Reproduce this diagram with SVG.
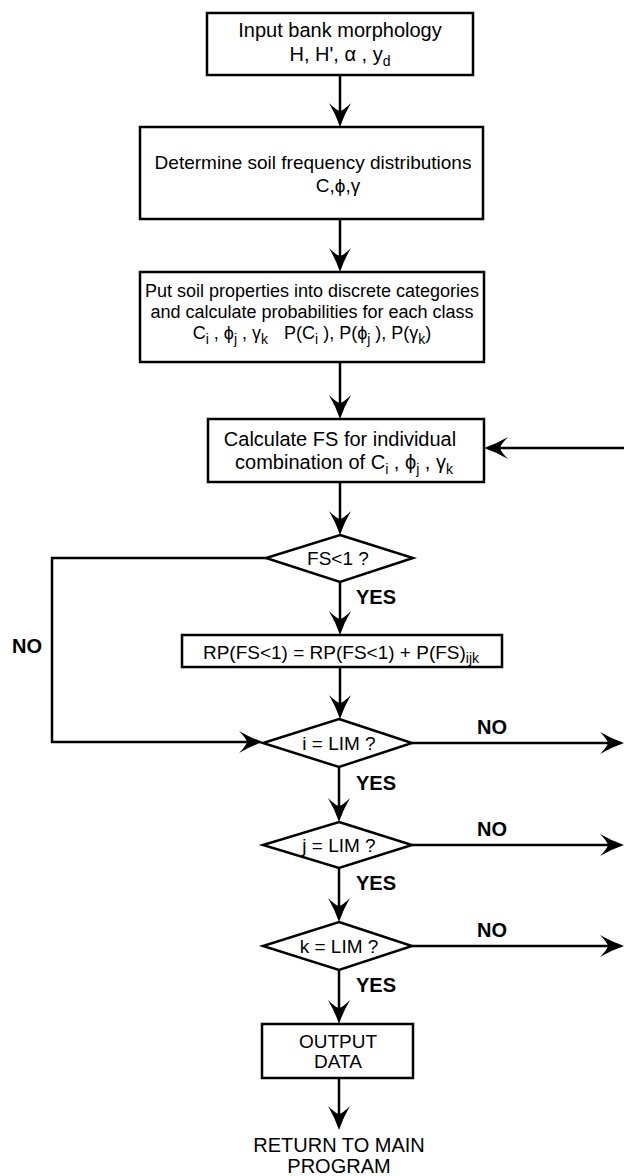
<svg xmlns="http://www.w3.org/2000/svg" width="624" height="1176" viewBox="0 0 624 1176">
<style>
  .bg { fill: #ffffff; }
  .box { fill: #ffffff; stroke: #000000; stroke-width: 2.5; }
  .t { font-family: "Liberation Sans", Arial, sans-serif; font-size: 19px; fill: #000000; text-anchor: middle; }
  .t20 { font-size: 20px; }
  .t18 { font-size: 18px; }
  .lbl { font-family: "Liberation Sans", Arial, sans-serif; font-size: 20px; font-weight: bold; fill: #000000; text-anchor: middle; }
  .sub { font-size: 14px; }
  .arr { fill: none; stroke: #000000; stroke-width: 2.5; marker-end: url(#ah); }
</style>
<defs>
  <marker id="ah" markerUnits="userSpaceOnUse" viewBox="-26 -12 28 24" refX="-6" refY="0" markerWidth="28" markerHeight="24" orient="auto">
    <path d="M0,0 Q-12,-4 -24,-11 Q-17,-4 -16,0 Q-17,4 -24,11 Q-12,4 0,0 Z" fill="#000000"/>
  </marker>
</defs>
<rect class="bg" x="0" y="0" width="624" height="1176"/>

<g id="connectors">
  <line class="arr" x1="340" y1="75" x2="340" y2="121"/>
  <line class="arr" x1="340" y1="219" x2="340" y2="266"/>
  <line class="arr" x1="340" y1="362" x2="340" y2="413"/>
  <line class="arr" x1="624" y1="448" x2="490" y2="448"/>
  <line class="arr" x1="340" y1="482" x2="340" y2="529"/>
  <polyline class="arr" points="266,558 52,558 52,742 257,742"/>
  <line class="arr" x1="340" y1="582" x2="340" y2="629"/>
  <line class="arr" x1="340" y1="667" x2="340" y2="713"/>
  <line class="arr" x1="412" y1="743" x2="618" y2="743"/>
  <line class="arr" x1="339" y1="767" x2="339" y2="816"/>
  <line class="arr" x1="412" y1="845" x2="618" y2="845"/>
  <line class="arr" x1="339" y1="868" x2="339" y2="916"/>
  <line class="arr" x1="412" y1="946" x2="618" y2="946"/>
  <line class="arr" x1="339" y1="970" x2="339" y2="1018"/>
  <line class="arr" x1="339" y1="1078" x2="339" y2="1124"/>
  <text class="lbl" x="27" y="653">NO</text>
  <text class="lbl" x="376" y="604">YES</text>
  <text class="lbl" x="492" y="734">NO</text>
  <text class="lbl" x="376" y="790">YES</text>
  <text class="lbl" x="492" y="836">NO</text>
  <text class="lbl" x="376" y="890">YES</text>
  <text class="lbl" x="492" y="937">NO</text>
  <text class="lbl" x="376" y="992">YES</text>
</g>

<g id="input">
  <rect class="box" x="207" y="13" width="266" height="62"/>
  <text class="t t20" x="340" y="37">Input bank morphology</text>
  <text class="t t20" x="340" y="61">H, H', α , y<tspan class="sub" font-size="16" dy="5">d</tspan></text>
</g>

<g id="distributions">
  <rect class="box" x="140" y="127" width="343" height="92"/>
  <text class="t" x="313" y="169">Determine soil frequency distributions</text>
  <text class="t" x="338" y="192">C,ϕ,γ</text>
</g>

<g id="categories">
  <rect class="box" x="140" y="272" width="344" height="90"/>
  <text class="t t18" x="312" y="297">Put soil properties into discrete categories</text>
  <text class="t t18" x="312" y="318">and calculate probabilities for each class</text>
  <text class="t t18" x="312" y="339">C<tspan class="sub" dy="5">i</tspan><tspan dy="-5"> , ϕ</tspan><tspan class="sub" dy="5">j</tspan><tspan dy="-5"> , γ</tspan><tspan class="sub" dy="5">k</tspan><tspan dy="-5" dx="16">P(C</tspan><tspan class="sub" dy="5">i</tspan><tspan dy="-5"> ), P(ϕ</tspan><tspan class="sub" dy="5">j</tspan><tspan dy="-5"> ), P(γ</tspan><tspan class="sub" dy="5">k</tspan><tspan dy="-5">)</tspan></text>
</g>

<g id="calculate">
  <rect class="box" x="208" y="419" width="276" height="63"/>
  <text class="t t20" x="340" y="446">Calculate FS for individual</text>
  <text class="t t20" x="344" y="469">combination of C<tspan class="sub" dy="5">i</tspan><tspan dy="-5"> , ϕ</tspan><tspan class="sub" dy="5">j</tspan><tspan dy="-5"> , γ</tspan><tspan class="sub" dy="5">k</tspan></text>
</g>

<g id="fs-check">
  <polygon class="box" points="340,535 413,558 340,582 266,558"/>
  <text class="t" x="338" y="565">FS&lt;1 ?</text>
</g>

<g id="rp-update">
  <rect class="box" x="182" y="635" width="320" height="32"/>
  <text class="t" font-size="20.5" x="341" y="659">RP(FS&lt;1) = RP(FS&lt;1) + P(FS)<tspan class="sub" dy="4">ijk</tspan></text>
</g>

<g id="i-check">
  <polygon class="box" points="339,719 412,743 339,767 263,743"/>
  <text class="t" x="339" y="750">i = LIM ?</text>
</g>

<g id="j-check">
  <polygon class="box" points="339,822 412,845 339,868 263,845"/>
  <text class="t" x="339" y="852">j = LIM ?</text>
</g>

<g id="k-check">
  <polygon class="box" points="339,922 412,946 339,970 263,946"/>
  <text class="t" x="339" y="953">k = LIM ?</text>
</g>

<g id="output">
  <rect class="box" x="262" y="1024" width="151" height="54"/>
  <text class="t" x="338" y="1048">OUTPUT</text>
  <text class="t" x="338" y="1068">DATA</text>
</g>

<g id="return">
  <text class="t t20" x="339" y="1152">RETURN TO MAIN</text>
  <text class="t t20" x="339" y="1173">PROGRAM</text>
</g>
</svg>
